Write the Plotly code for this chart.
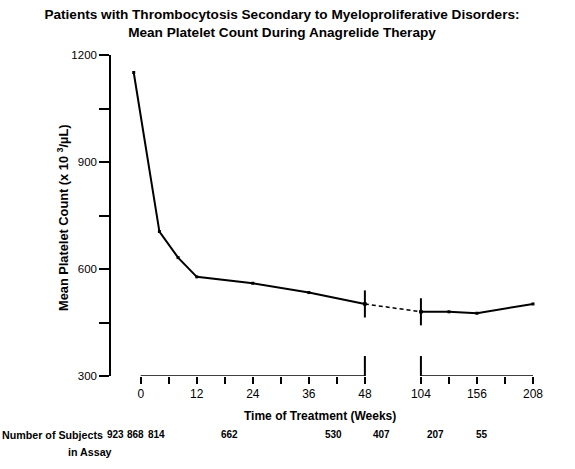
import plotly.graph_objects as go

# ---------------- data ----------------
tick_weeks = [0, 12, 24, 36, 48, 104, 156, 208]
tick_labels = ["0", "12", "24", "36", "48", "104", "156", "208"]
minor_weeks = [6, 18, 30, 42, 130, 182]

weeks = [-1.5, 4, 8, 12, 24, 36, 48, 104, 130, 156, 208]
platelets = [1151, 705, 632, 578, 560, 534, 502, 480, 480, 476, 502]

break_weeks = [48, 104]

subject_counts = ["923", "868", "814", "662", "530", "407", "207", "55"]
count_label_weeks = [-5.5, -1.2, 3.4, 19.1, 41.3, 65.0, 117.5, 161.0]

FONT = "Liberation Sans, Arial, Helvetica, sans-serif"

# broken axis: 0-48 weeks on a 12-week grid, 104-208 on a 52-week grid
def pos(w):
    if w <= 48:
        return w / 12.0
    return 4 + (w - 48) / 56.0 if w < 104 else 5 + (w - 104) / 52.0

x_pos = [pos(w) for w in weeks]
tick_pos = [pos(w) for w in tick_weeks]
minor_pos = [pos(w) for w in minor_weeks]
break_pos = [pos(w) for w in break_weeks]
break_vals = [platelets[weeks.index(w)] for w in break_weeks]

fig = go.Figure()

seg1 = [i for i, w in enumerate(weeks) if w <= 48]
seg2 = [i for i, w in enumerate(weeks) if 48 <= w <= 104]
seg3 = [i for i, w in enumerate(weeks) if w >= 104]

for seg, dash in ((seg1, "solid"), (seg2, "dash"), (seg3, "solid")):
    fig.add_trace(go.Scatter(
        x=[x_pos[i] for i in seg], y=[platelets[i] for i in seg],
        mode="lines+markers",
        line=dict(color="black", width=2 if dash == "solid" else 1.5,
                  dash="4px,3px" if dash == "dash" else "solid"),
        marker=dict(symbol="square", size=3, color="black"),
        showlegend=False, hoverinfo="skip", cliponaxis=False,
    ))

# break marks on the curve
fig.add_trace(go.Scatter(
    x=break_pos, y=break_vals, mode="markers",
    marker=dict(symbol="square", size=3, color="black"),
    error_y=dict(type="constant", value=38, width=0, thickness=2, color="black"),
    showlegend=False, hoverinfo="skip", cliponaxis=False,
))

shapes = []
# broken x-axis line
for a, b in ((tick_pos[0], break_pos[0]), (break_pos[1], tick_pos[-1])):
    shapes.append(dict(type="line", xref="x", yref="y", x0=a, x1=b, y0=300, y1=300,
                       line=dict(color="black", width=1.5)))
# break bars on x-axis
for p in break_pos:
    shapes.append(dict(type="line", xref="x", yref="y", x0=p, x1=p, y0=300, y1=356,
                       line=dict(color="black", width=2)))

L, R, T, B = 111, 42, 55, 93
PW, PH = 575 - L - R, 469 - T - B

def px_x(px):
    return (px - L) / PW

def px_y(py):
    return (469 - B - py) / PH

annotations = [
    dict(text="<b>Mean Platelet Count (x 10 <sup>3</sup>/µL)</b>", textangle=-90,
         xref="paper", yref="paper", x=px_x(63), y=px_y(218),
         xanchor="center", yanchor="middle", showarrow=False,
         font=dict(family=FONT, size=12.8, color="black")),
    dict(text="<b>Time of Treatment (Weeks)</b>", xref="paper", yref="paper",
         x=px_x(320), y=px_y(416), xanchor="center", yanchor="middle", showarrow=False,
         font=dict(family=FONT, size=12, color="black")),
    dict(text="<b>Number of Subjects</b>", xref="paper", yref="paper",
         x=px_x(0), y=px_y(435), xanchor="left", yanchor="middle", showarrow=False,
         font=dict(family=FONT, size=10.7, color="black")),
    dict(text="<b>in Assay</b>", xref="paper", yref="paper",
         x=px_x(90), y=px_y(452), xanchor="center", yanchor="middle", showarrow=False,
         font=dict(family=FONT, size=10.7, color="black")),
]
for lab, w in zip(subject_counts, count_label_weeks):
    annotations.append(dict(text="<b>" + lab + "</b>", xref="x", yref="paper",
                            x=pos(w) if w >= 0 else w / 12.0, y=px_y(435),
                            xanchor="center", yanchor="middle", showarrow=False,
                            font=dict(family=FONT, size=10, color="black")))

fig.update_layout(
    width=575, height=469,
    margin=dict(l=L, r=R, t=T, b=B),
    paper_bgcolor="white", plot_bgcolor="white",
    font=dict(family=FONT, color="black"),
    title=dict(
        text="<b>Patients with Thrombocytosis Secondary to Myeloproliferative Disorders:<br>"
             "Mean Platelet Count During Anagrelide Therapy</b>",
        x=282 / 575, xref="container", xanchor="center",
        y=1 - 19 / 469, yref="container", yanchor="middle",
        font=dict(family=FONT, size=13.6, color="black"),
    ),
    xaxis=dict(
        range=[-(140.7 - L) / 56.0, 7.0],
        tickmode="array", tickvals=tick_pos, ticktext=tick_labels,
        ticks="outside", ticklen=7, tickwidth=1.5, tickcolor="black",
        showline=False, showgrid=False, zeroline=False,
        tickfont=dict(family=FONT, size=12, color="black"),
        minor=dict(tickmode="array", tickvals=minor_pos, ticks="outside",
                   ticklen=7, tickwidth=1.5, tickcolor="black", showgrid=False),
    ),
    yaxis=dict(
        range=[300, 1200],
        tickmode="array", tickvals=[300, 600, 900, 1200],
        ticks="outside", ticklen=10, tickwidth=1.5, tickcolor="black",
        showline=True, linecolor="black", linewidth=1.5,
        showgrid=False, zeroline=False,
        tickfont=dict(family=FONT, size=11.5, color="black"),
        minor=dict(tickmode="array", tickvals=[450, 750, 1050], ticks="outside",
                   ticklen=10, tickwidth=1.5, tickcolor="black", showgrid=False),
    ),
    shapes=shapes,
    annotations=annotations,
)

fig.write_html("out.html", config={"displayModeBar": False},
               post_script="document.body.style.margin='0';")
